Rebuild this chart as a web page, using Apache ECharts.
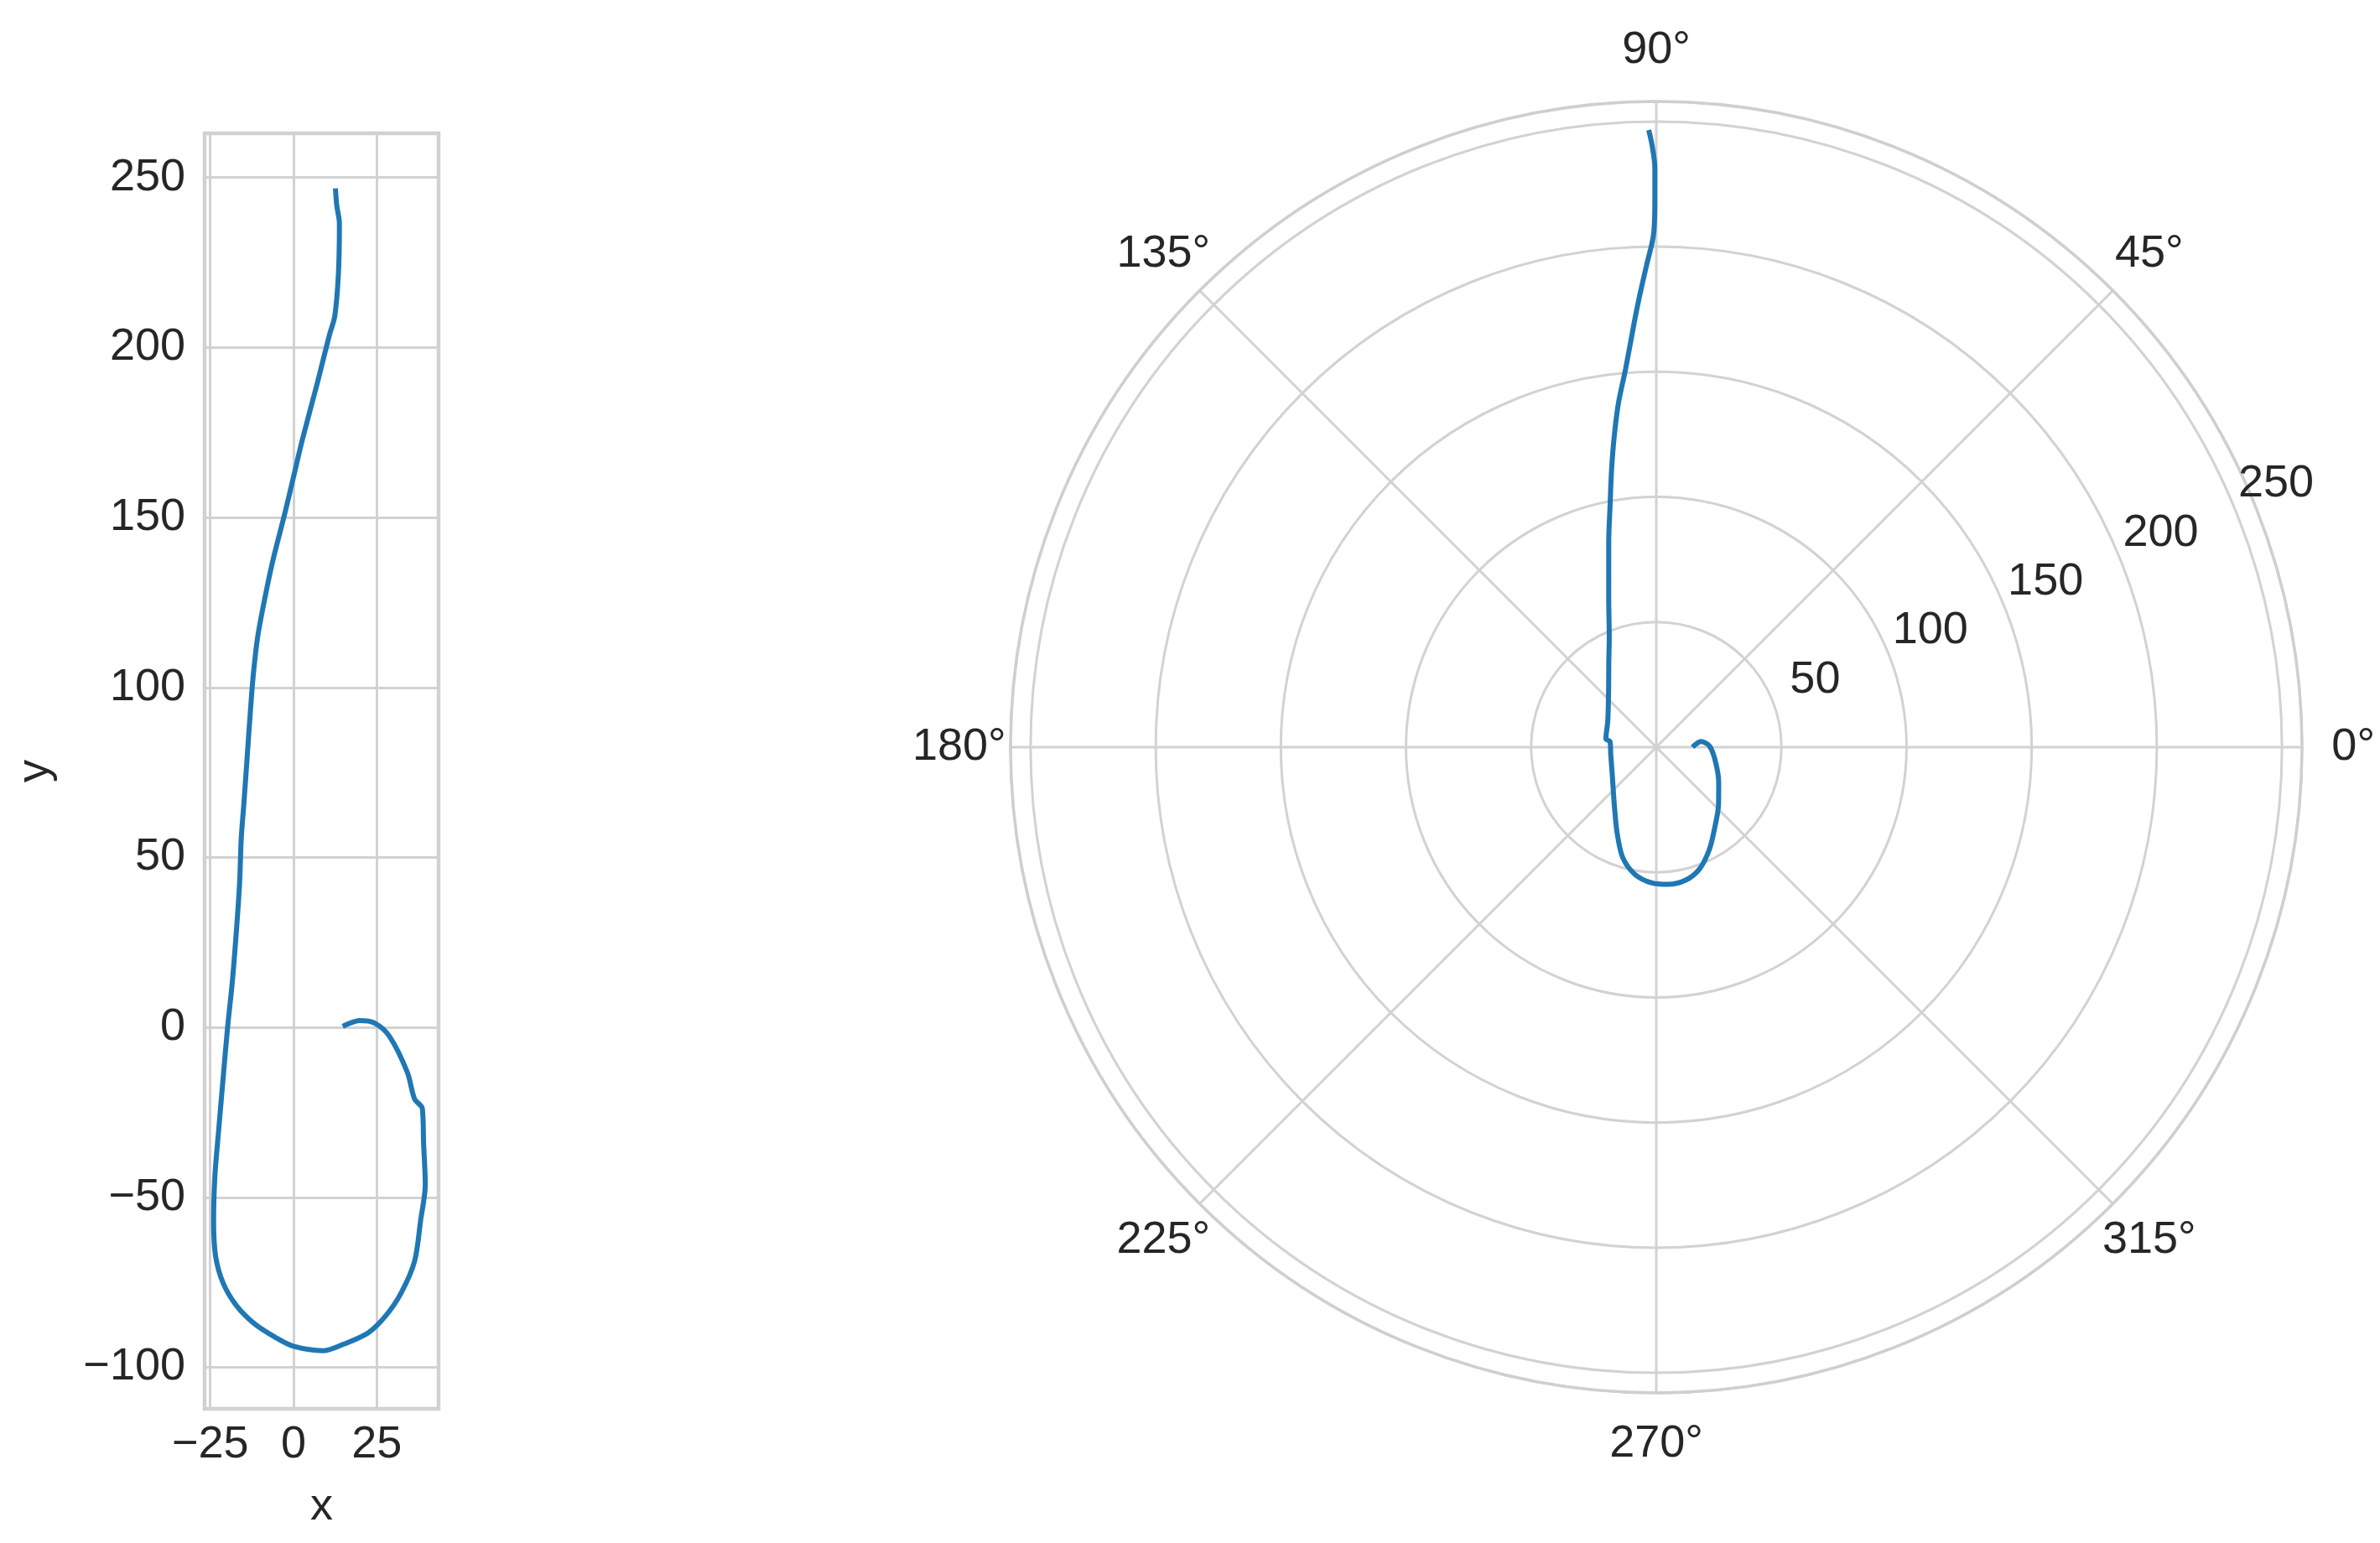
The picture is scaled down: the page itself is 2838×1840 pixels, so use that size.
<!DOCTYPE html>
<html>
<head>
<meta charset="utf-8">
<title>Path in x/y and polar form</title>
<script src="https://cdn.jsdelivr.net/npm/echarts@6.0.0/dist/echarts.min.js"></script>
<style>
  html, body { margin: 0; padding: 0; background: #fff; }
  #chart { width: 2838px; height: 1840px; }
</style>
</head>
<body>
<div id="chart"></div>
<script>
// left panel: the traced path in the x/y plane
const pathX = [12.6, 13.0, 13.8, 13.5, 12.4, 10.8, 7.2, 2.7, 0, -2.7, -6.3, -9.0, -10.8, -12.1, -13.0, -14.0, -14.9,
  -15.7, -16.2, -17.1, -18.4, -19.8, -21.1, -22.5, -23.6, -24.0, -23.4, -21.1, -17.1, -11.7, -5.4, 0, 9.0, 15.3,
  22.5, 27.9, 32.4, 36.4, 38.2, 39.6, 39.1, 38.7, 36.4, 34.2, 28.8, 24.3, 19.8, 17.1, 14.8];
const pathY = [246.8, 241.8, 236.5, 221.7, 209.2, 203.7, 189.7, 173.0, 161.9, 150.8, 136.9, 124.3, 114.6, 103.5, 92.3, 78.4, 65.9,
  55.5, 42.3, 29.1, 13.2, 0, -14.5, -30.4, -43.6, -56.8, -67.3, -75.3, -81.9, -87.2, -91.2, -93.8, -95.1, -93.1,
  -89.8, -84.6, -78.0, -68.7, -56.8, -46.2, -34.3, -23.8, -21.1, -13.2, -2.6, 1.3, 2.0, 1.3, 0.3];

// right panel: the path in polar form (radius, angle in degrees)
const polarR = [246.6, 240.5, 231.5, 218.1, 204.7, 192.4, 180.3, 171.4, 151.5, 138.5, 125.5, 112.3, 99.2, 84.0,
  62.5, 48.0, 38.0, 30.5, 22.1, 20.4, 18.6, 18.4, 21.1, 28.4, 37.5, 46.1, 51.6, 54.3, 55.0, 54.4, 51.6, 46.0,
  39.5, 33.8, 28.6, 24.0, 21.2, 18.0, 15.7, 14.5];
const polarTheta = [90.7, 90.4, 90.14, 90.15, 90.31, 91.17, 92.13, 92.85, 94.65, 96.25, 97.68, 99.15, 100.7, 103.07,
  107.7, 113.04, 119.98, 128.6, 151.2, 170.5, 173.1, 188.7, 213.8, 233.8, 245.3, 253.1, 260.6, 268.2, 274.7, 282.5,
  289.6, 297.5, 306.4, 317.4, 330.7, 347.9, 1.5, 7.2, 4.0, 0];

// tick labels
const xTicks = [-25, 0, 25];
const yTicks = [-100, -50, 0, 50, 100, 150, 200, 250];
const angleTicks = [0, 45, 90, 135, 180, 225, 270, 315];
const radiusTicks = [50, 100, 150, 200, 250];

const FONT = '"Liberation Sans", Arial, sans-serif';
const TEXT = '#262626';
const GRID = '#d2d2d2';
const SPINE = '#cfcfcf';
const BLUE = '#1f77b4';
const minus = v => String(v).replace('-', '\u2212');
const labelStyle = { color: TEXT, fontSize: 54, fontFamily: FONT };

// radius (in data units) at which the angle labels are centred, just outside the frame
const angleLabelR = 278.5;

const chart = echarts.init(document.getElementById('chart'));

const option = {
  animation: false,
  backgroundColor: '#ffffff',
  textStyle: { fontFamily: FONT },
  grid: {
    left: 244, top: 159, width: 279, height: 1521,
    show: true, borderColor: SPINE, borderWidth: 4.5, backgroundColor: 'transparent'
  },
  xAxis: {
    type: 'value', min: -26.7, max: 43.6,
    minInterval: xTicks[1] - xTicks[0], maxInterval: xTicks[1] - xTicks[0],
    name: 'x', nameLocation: 'middle', nameGap: 90, nameTextStyle: labelStyle,
    axisLine: { show: false }, axisTick: { show: false },
    axisLabel: { ...labelStyle, margin: 16, formatter: v => xTicks.includes(v) ? minus(v) : '' },
    splitLine: { show: true, lineStyle: { color: GRID, width: 3 } }
  },
  yAxis: {
    type: 'value', min: -112.2, max: 263,
    minInterval: yTicks[1] - yTicks[0], maxInterval: yTicks[1] - yTicks[0],
    name: 'y', nameLocation: 'middle', nameGap: 175, nameTextStyle: labelStyle,
    axisLine: { show: false }, axisTick: { show: false },
    axisLabel: { ...labelStyle, margin: 23, formatter: v => yTicks.includes(v) ? minus(v) : '' },
    splitLine: { show: true, lineStyle: { color: GRID, width: 3 } }
  },
  polar: [
    { center: [1975, 891], radius: 770 },
    // helper polar only used to place the radius labels along ~23 deg
    { center: [2027, 869], radius: 895.5 }
  ],
  angleAxis: [
    {
      polarIndex: 0, type: 'value', min: 0, max: 360, interval: 45, startAngle: 0, clockwise: false,
      axisLine: { show: true, lineStyle: { color: SPINE, width: 3.5 } },
      axisTick: { show: false },
      axisLabel: { show: false },
      splitLine: { show: true, lineStyle: { color: GRID, width: 3 } }
    },
    {
      polarIndex: 1, type: 'value', min: 0, max: 360, startAngle: 23, clockwise: false,
      axisLine: { show: false }, axisTick: { show: false }, axisLabel: { show: false }, splitLine: { show: false }
    }
  ],
  radiusAxis: [
    {
      polarIndex: 0, type: 'value', min: 0, max: 258, interval: 50,
      axisLine: { show: false }, axisTick: { show: false }, axisLabel: { show: false },
      splitLine: { show: true, lineStyle: { color: GRID, width: 3 } }
    },
    {
      polarIndex: 1, type: 'value', min: 0, max: 300, interval: 50,
      axisLine: { show: false }, axisTick: { show: false }, splitLine: { show: false },
      axisLabel: { ...labelStyle, margin: 0, align: 'center', verticalAlign: 'middle',
        formatter: v => radiusTicks.includes(v) ? String(v) : '' }
    }
  ],
  series: [
    {
      type: 'line', xAxisIndex: 0, yAxisIndex: 0,
      data: pathX.map((x, i) => [x, pathY[i]]),
      showSymbol: false, smooth: 0.3,
      lineStyle: { color: BLUE, width: 6 }, itemStyle: { color: BLUE }
    },
    {
      type: 'line', coordinateSystem: 'polar', polarIndex: 0,
      data: polarR.map((r, i) => [r, polarTheta[i]]),
      showSymbol: false, smooth: 0.3,
      lineStyle: { color: BLUE, width: 6 }, itemStyle: { color: BLUE }
    },
    {
      // angle tick labels, centred on a ring just outside the frame
      type: 'scatter', coordinateSystem: 'polar', polarIndex: 0,
      data: angleTicks.map(a => [angleLabelR, a]),
      symbolSize: 1, clip: false, silent: true,
      itemStyle: { color: 'rgba(0,0,0,0)', opacity: 1 },
      label: {
        show: true, position: 'inside', align: 'center', verticalAlign: 'middle',
        ...labelStyle, formatter: p => p.value[1] + '°'
      }
    }
  ]
};

chart.setOption(option);
window.addEventListener('resize', () => chart.resize());
</script>
</body>
</html>
